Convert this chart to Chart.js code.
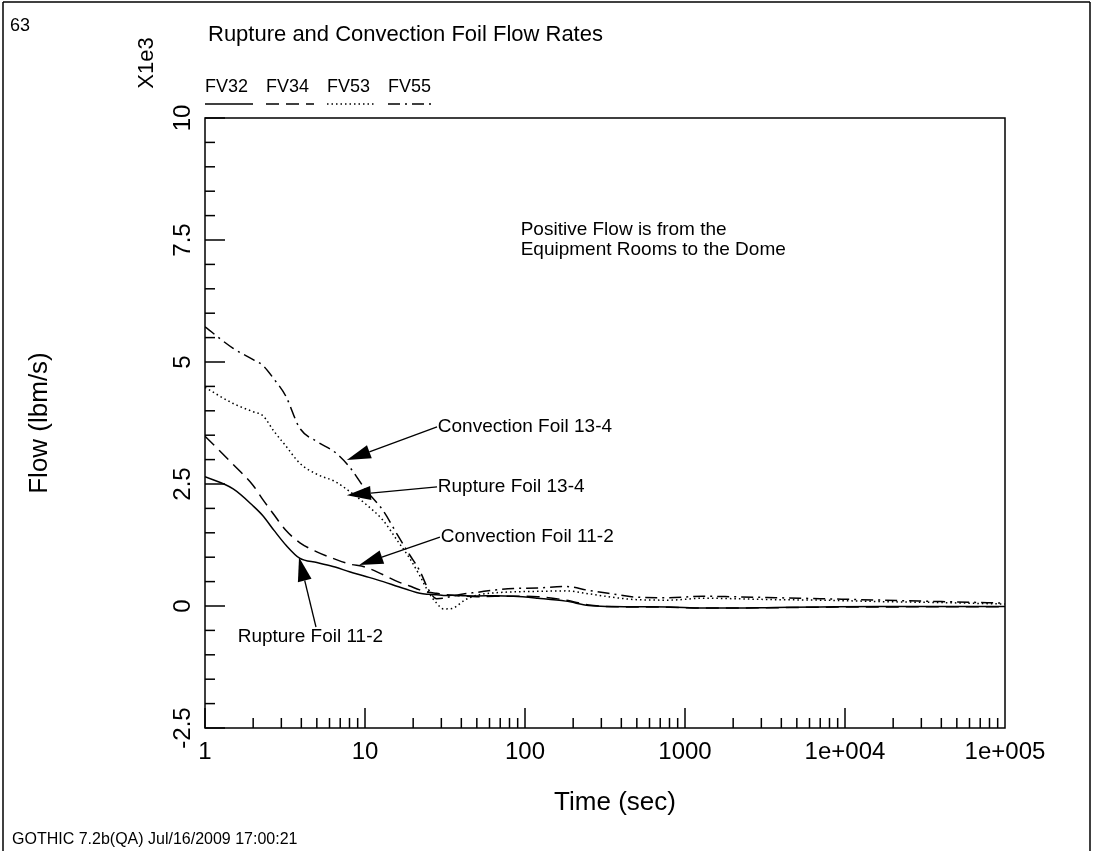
<!DOCTYPE html>
<html lang="en">
<head>
<meta charset="UTF-8">
<title>Rupture and Convection Foil Flow Rates</title>
<script src="https://cdn.jsdelivr.net/npm/chart.js"></script>
<style>
    html, body { margin: 0; padding: 0; background: #fff; }
    .chart-container { width: 1093px; height: 851px; }
</style>
</head>
<body>
<div class="chart-container">
    <canvas id="flowChart" width="1093" height="851"></canvas>
</div>
<script>
// time (sec), shared by all four curves
const timeSec = [1, 1.5, 2, 2.3, 2.7, 3.2, 3.9, 5, 6.5, 8, 10, 13, 16, 19, 22, 25, 28, 31, 35, 42,
    50, 65, 85, 120, 180, 250, 350, 500, 800, 1300, 2000, 3700, 7000, 17000, 40000, 100000];
// flow (lbm/s)
const fv32 = [2650, 2400, 2050, 1850, 1550, 1250, 980, 890, 800, 700, 610, 500, 400, 320, 260, 240, 230, 215, 220, 210,
    205, 210, 200, 160, 100, 10, -10, -15, -20, -40, -40, -30, -20, -10, -10, -10];
const fv34 = [3480, 2900, 2470, 2180, 1870, 1550, 1300, 1110, 960, 860, 800, 640, 500, 410, 330, 280, 260, 240, 220, 200,
    190, 200, 200, 190, 120, 20, -15, -20, -25, -40, -40, -35, -25, -20, -15, -15];
const fv53 = [4480, 4150, 3980, 3900, 3580, 3280, 2930, 2700, 2550, 2350, 2100, 1750, 1330, 980, 620, 280, 60, -60, -50, 120,
    220, 270, 290, 300, 310, 250, 180, 130, 120, 160, 150, 130, 120, 90, 70, 40];
const fv55 = [5720, 5280, 5050, 4930, 4650, 4300, 3650, 3370, 3150, 2850, 2400, 1950, 1450, 1050, 720, 330, 150, 160, 200, 250,
    280, 330, 360, 370, 400, 320, 250, 180, 170, 200, 190, 170, 150, 120, 90, 60];

const seriesNames = ['FV32', 'FV34', 'FV53', 'FV55'];
const xTickValues = [1, 10, 100, 1000, 10000, 100000];
const xTickLabels = ['1', '10', '100', '1000', '1e+004', '1e+005'];
const yTickValues = [-2500, 0, 2500, 5000, 7500, 10000];
const yTickLabels = ['-2.5', '0', '2.5', '5', '7.5', '10'];

const FONT = '"Liberation Sans", Arial, sans-serif';
const dashes = [[], [13, 7], [1.5, 3], [12, 5, 2, 5]];

// callouts: text, where the text sits, where the arrow starts, where it points (time, flow)
const callouts = [
    { text: 'Convection Foil 13-4', at: [28.5, 3670], from: [28.2, 3670], to: [7.7, 2990] },
    { text: 'Rupture Foil 13-4', at: [28.5, 2440], from: [28.2, 2440], to: [7.7, 2270] },
    { text: 'Convection Foil 11-2', at: [29.8, 1410], from: [29.4, 1410], to: [9.2, 840] },
    { text: 'Rupture Foil 11-2', at: [1.6, -640], from: [4.94, -430], to: [3.87, 1000] }
];
const noteLines = ['Positive Flow is from the', 'Equipment Rooms to the Dome'];

function line(ctx, x1, y1, x2, y2) {
    ctx.beginPath(); ctx.moveTo(x1, y1); ctx.lineTo(x2, y2); ctx.stroke();
}

function arrow(ctx, x1, y1, x2, y2) {
    const ang = Math.atan2(y2 - y1, x2 - x1);
    const hl = 24, hw = 7;
    const bx = x2 - hl * Math.cos(ang), by = y2 - hl * Math.sin(ang);
    line(ctx, x1, y1, bx, by);
    ctx.beginPath();
    ctx.moveTo(x2, y2);
    ctx.lineTo(bx + hw * Math.sin(ang), by - hw * Math.cos(ang));
    ctx.lineTo(bx - hw * Math.sin(ang), by + hw * Math.cos(ang));
    ctx.closePath();
    ctx.fill();
}

const gothicFrame = {
    id: 'gothicFrame',
    afterDraw(chart) {
        const ctx = chart.ctx, a = chart.chartArea;
        const xs = chart.scales.x, ys = chart.scales.y;
        ctx.save();
        ctx.strokeStyle = '#000';
        ctx.fillStyle = '#000';
        ctx.lineWidth = 1.5;

        // page frame
        line(ctx, 3, 851, 3, 2);
        line(ctx, 3, 2, 1090, 2);
        line(ctx, 1090, 2, 1090, 851);

        // plot box
        ctx.strokeRect(a.left, a.top, a.right - a.left, a.bottom - a.top);

        // inward ticks, y every 500
        for (let v = -2500; v <= 10000; v += 500) {
            const py = ys.getPixelForValue(v);
            line(ctx, a.left, py, a.left + (v % 2500 === 0 ? 20 : 10), py);
        }
        // inward ticks, x log decades
        for (let d = 1; d < 100000; d *= 10) {
            for (let k = 1; k < 10; k++) {
                const px = xs.getPixelForValue(d * k);
                line(ctx, px, a.bottom, px, a.bottom - (k === 1 ? 20 : 10));
            }
        }

        // tick labels
        ctx.font = '24px ' + FONT;
        ctx.textAlign = 'center';
        ctx.textBaseline = 'top';
        xTickValues.forEach((v, i) => ctx.fillText(xTickLabels[i], xs.getPixelForValue(v), a.bottom + 12));
        yTickValues.forEach((v, i) => {
            ctx.save();
            ctx.translate(a.left - 22, ys.getPixelForValue(v));
            ctx.rotate(-Math.PI / 2);
            ctx.textBaseline = 'middle';
            ctx.fillText(yTickLabels[i], 0, 0);
            ctx.restore();
        });

        // axis titles
        ctx.textBaseline = 'middle';
        ctx.font = '26px ' + FONT;
        ctx.fillText('Time (sec)', 615, a.bottom + 75);
        ctx.save();
        ctx.translate(40, (a.top + a.bottom) / 2);
        ctx.rotate(-Math.PI / 2);
        ctx.fillText('Flow (lbm/s)', 0, 0);
        ctx.restore();
        ctx.font = '22px ' + FONT;
        ctx.save();
        ctx.translate(147, 63);
        ctx.rotate(-Math.PI / 2);
        ctx.fillText('X1e3', 0, 0);
        ctx.restore();

        // title and corner texts
        ctx.textAlign = 'left';
        ctx.fillText('Rupture and Convection Foil Flow Rates', 208, 35);
        ctx.font = '18px ' + FONT;
        ctx.fillText('63', 10, 26);
        ctx.font = '16px ' + FONT;
        ctx.fillText('GOTHIC 7.2b(QA) Jul/16/2009 17:00:21', 12, 840);

        // legend: name above a line sample
        ctx.font = '18px ' + FONT;
        chart.data.datasets.forEach((ds, i) => {
            const x0 = a.left + i * 61;
            ctx.fillText(ds.label, x0, 87);
            ctx.setLineDash(ds.borderDash);
            line(ctx, x0, 104, x0 + 48, 104);
            ctx.setLineDash([]);
        });

        // note and callouts
        ctx.font = '19px ' + FONT;
        noteLines.forEach((t, i) => ctx.fillText(t, xs.getPixelForValue(94), ys.getPixelForValue(7700 - i * 400)));
        ctx.lineWidth = 1.3;
        callouts.forEach(c => {
            ctx.fillText(c.text, xs.getPixelForValue(c.at[0]), ys.getPixelForValue(c.at[1]));
            arrow(ctx, xs.getPixelForValue(c.from[0]), ys.getPixelForValue(c.from[1]),
                xs.getPixelForValue(c.to[0]), ys.getPixelForValue(c.to[1]));
        });
        ctx.restore();
    }
};

const seriesValues = [fv32, fv34, fv53, fv55];
const ctx = document.getElementById('flowChart').getContext('2d');
new Chart(ctx, {
    type: 'line',
    data: {
        datasets: seriesNames.map((name, i) => ({
            label: name,
            data: timeSec.map((t, j) => ({ x: t, y: seriesValues[i][j] })),
            borderColor: '#000',
            borderWidth: 1.5,
            borderDash: dashes[i],
            pointRadius: 0,
            fill: false,
            cubicInterpolationMode: 'monotone'
        }))
    },
    options: {
        responsive: false,
        animation: false,
        devicePixelRatio: 1,
        layout: { padding: { left: 205, top: 118, right: 88, bottom: 123 } },
        plugins: { legend: { display: false }, tooltip: { enabled: false }, title: { display: false } },
        scales: {
            x: { type: 'logarithmic', min: 1, max: 100000, display: false },
            y: { type: 'linear', min: -2500, max: 10000, display: false }
        }
    },
    plugins: [gothicFrame]
});
</script>
</body>
</html>
